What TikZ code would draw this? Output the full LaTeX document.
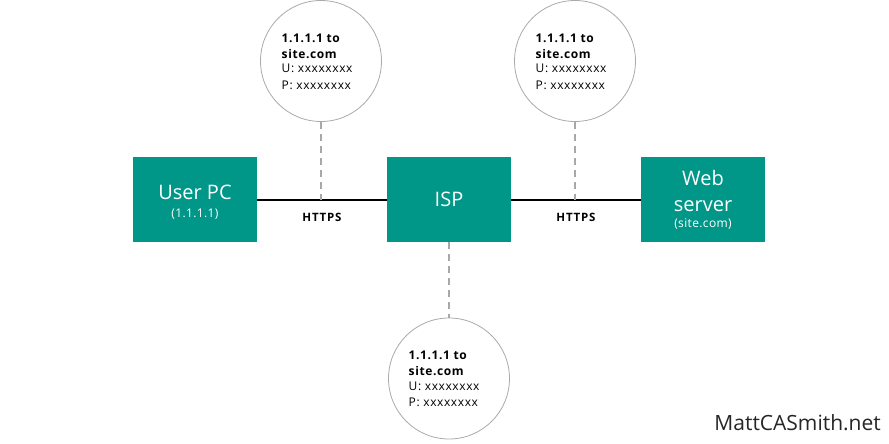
\documentclass[tikz,border=0pt]{standalone}
\usepackage{fontspec}
\setmainfont{Open Sans}
\definecolor{boxteal}{HTML}{009688}
\definecolor{ringgray}{HTML}{AAAAAA}
\definecolor{dashgray}{HTML}{A8A8A8}
\newcommand{\fs}[2]{\fontsize{#1}{#2}\selectfont}
\begin{document}
\begin{tikzpicture}[x=1pt,y=-1pt,
  hostbox/.style={fill=boxteal, draw=none, minimum width=124pt, minimum height=85pt, inner sep=0pt},
  big/.style={anchor=base, inner sep=0pt, text=white, font=\fs{20}{24}},
  small/.style={anchor=base, inner sep=0pt, text=white, font=\fs{12}{14}\addfontfeature{LetterSpace=3}},
  ring/.style={circle, draw=ringgray, line width=0.8pt, minimum size=121pt, inner sep=0pt, fill=white},
  note/.style={anchor=base west, inner sep=0pt, font=\fs{12}{14}\addfontfeature{LetterSpace=5}},
  noteb/.style={note, font=\fs{12}{14}\bfseries\addfontfeature{LetterSpace=5}},
  link/.style={draw=black, line width=1.6pt},
  tap/.style={draw=dashgray, line width=2pt, dash pattern=on 7pt off 5pt},
  proto/.style={anchor=base, inner sep=0pt, font=\fs{11.5}{13}\bfseries\addfontfeature{LetterSpace=7}},
]
\useasboundingbox (0,0) rectangle (889,444);
\fill[white] (0,0) rectangle (889,444);

% hosts
\node[hostbox] (pc) at (195,199.5) {};
\node[hostbox] (isp) at (449,199.5) {};
\node[hostbox] (web) at (703,199.5) {};

\node[big] (pct) at (195,199) {User PC};
\node[small] (pcip) at (195,217) {(1.1.1.1)};
\node[big] (ispt) at (449,206.7) {ISP};
\node[big] (webt1) at (703,185.7) {Web};
\node[big] (webt2) at (703,211) {server};
\node[small] (webip) at (703,227.5) {(site.com)};

% links
\coordinate (j1) at (321,200);
\coordinate (j2) at (575,200);
\draw[link] (pc.east |- j1) -- (isp.west |- j1);
\draw[link] (isp.east |- j2) -- (web.west |- j2);

\node[proto] (h1) at (322,221.5) {HTTPS};
\node[proto] (h2) at (576,221.5) {HTTPS};

% observers
\node[ring] (c1) at (321,61) {};
\node[ring] (c2) at (575,61) {};
\node[ring] (c3) at (449,378.5) {};

\draw[tap] (c1.south) -- (j1);
\draw[tap] (c2.south) -- (j2);
\draw[tap] (isp.south) -- (c3.north);

\foreach \c/\dx in {c1/-39.5, c2/-39.5, c3/-40.5}{
  \node[noteb] (\c a) at ([shift={(\dx,-18.7)}]\c.center) {1.1.1.1 to};
  \node[noteb] (\c b) at ([shift={(\dx,-2.7)}]\c.center) {site.com};
  \node[note] (\c c) at ([shift={(\dx,11.7)}]\c.center) {U: xxxxxxxx};
  \node[note] (\c d) at ([shift={(\dx,28.3)}]\c.center) {P: xxxxxxxx};
}

\node[anchor=base east, inner sep=0pt, text=black!85, font=\fs{21}{24}] (brand) at (881,430) {MattCASmith.net};
\end{tikzpicture}
\end{document}
